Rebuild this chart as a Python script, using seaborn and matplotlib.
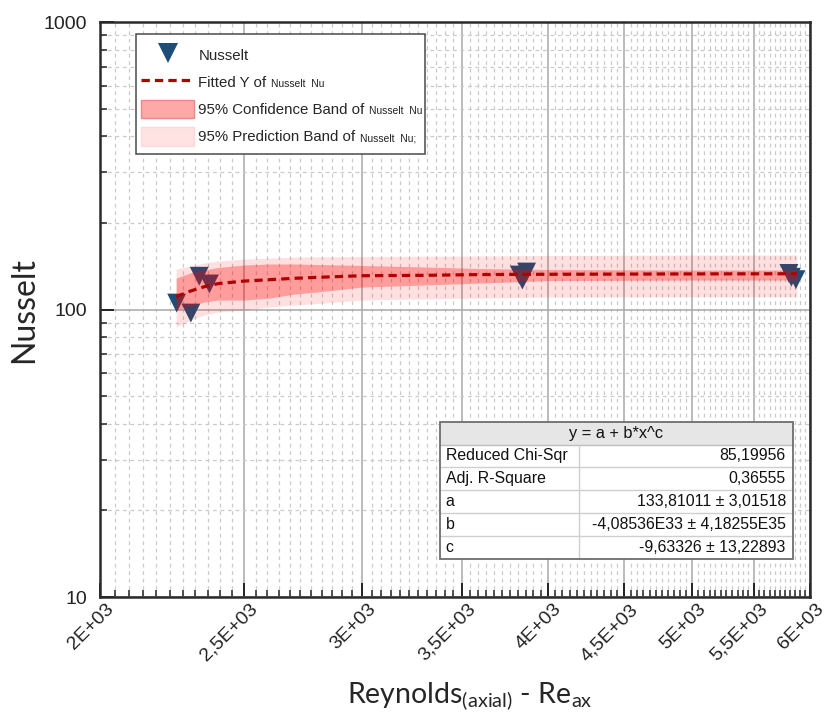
import numpy as np
import pandas as pd
import matplotlib
matplotlib.use("Agg")
import matplotlib.pyplot as plt
import matplotlib.ticker as mticker
import matplotlib.transforms as mtrans
from matplotlib.patches import Patch, Rectangle
from matplotlib.lines import Line2D
import seaborn as sns

# ---------------- data ----------------
re_points = [2252, 2302, 2332, 2369, 3827, 3845, 3870, 5808, 5830, 5871]
nu_points = [105.3, 97.2, 130.5, 122.7, 131.8, 126.6, 135.0, 133.5, 129.5, 127.0]

fit_re = [2250, 2300, 2350, 2400, 2450, 2500, 2600, 2700, 2800, 3000,
          3300, 3600, 4000, 4500, 5000, 5500, 5880]
fit_nu = [110.8, 115.9, 120.0, 123.0, 124.3, 125.6, 127.0, 128.4, 129.4, 131.1,
          131.5, 132.3, 132.6, 132.8, 133.0, 133.1, 133.2]

band_re = [2250, 2300, 2350, 2400, 2500, 2600, 2700, 2800, 3000, 3300,
           3600, 4000, 5000, 5880]
conf_hi = [128.7, 134.0, 137.2, 140.0, 142.8, 144.0, 144.0, 143.4, 142.3, 140.6,
           138.9, 137.8, 137.2, 137.2]
conf_lo = [99.6, 102.8, 106.2, 107.9, 107.9, 109.6, 113.2, 115.1, 119.7, 121.7,
           123.6, 126.1, 126.6, 126.6]
pred_hi = [138.3, 141.7, 145.1, 147.5, 149.8, 151.0, 152.2, 152.6, 152.9, 153.3,
           153.5, 154.1, 154.7, 154.7]
pred_lo = [86.9, 91.9, 95.7, 98.0, 99.6, 102.0, 103.7, 104.9, 107.9, 108.8,
           109.6, 110.5, 110.8, 110.8]

xtick_values = [2000, 2500, 3000, 3500, 4000, 4500, 5000, 5500, 6000]
xtick_labels = ["2E+03", "2,5E+03", "3E+03", "3,5E+03", "4E+03",
                "4,5E+03", "5E+03", "5,5E+03", "6E+03"]
ytick_values = [10, 100, 1000]
ytick_labels = ["10", "100", "1000"]

legend_labels = ["Nusselt", "Fitted Y of", "95% Confidence Band of",
                 "95% Prediction Band of"]
legend_suffix = [None, "Nusselt  Nu", "Nusselt  Nu", "Nusselt  Nu;"]

table_title = "y = a + b*x^c"
table_names = ["Reduced Chi-Sqr", "Adj. R-Square", "a", "b", "c"]
table_values = ["85,19956", "0,36555", "133,81011 \u00b1 3,01518",
                "-4,08536E33 \u00b1 4,18255E35", "-9,63326 \u00b1 13,22893"]

# ---------------- style ----------------
sns.set_style("ticks")
plt.rcParams['font.family'] = ['Liberation Sans', 'DejaVu Sans']

marker_color = "#1C4E77"
fit_color = "#B00000"

fig = plt.figure(figsize=(8.27, 7.15), dpi=100)
ax = fig.add_axes([0.1209, 0.1650, 0.8585, 0.8042])

ax.set_xscale("log")
ax.set_yscale("log")
ax.set_xlim(xtick_values[0], xtick_values[-1])
ax.set_ylim(ytick_values[0], ytick_values[-1])

# points (below the translucent bands, as in the reference)
pts = pd.DataFrame({"Re": re_points, "Nu": nu_points})
sns.scatterplot(data=pts, x="Re", y="Nu", marker="v", s=185, color=marker_color,
                edgecolor="none", linewidth=0, zorder=2, ax=ax, legend=False)

ax.fill_between(band_re, pred_lo, pred_hi, color="#FF0000", alpha=0.12,
                linewidth=0, zorder=3)
ax.fill_between(band_re, conf_lo, conf_hi, color="#FF0000", alpha=0.30,
                linewidth=0, zorder=3.1)

fit = pd.DataFrame({"Re": fit_re, "Nu": fit_nu})
sns.lineplot(data=fit, x="Re", y="Nu", color=fit_color, linewidth=2.3,
             linestyle=(0, (2.6, 1.6)), zorder=4, ax=ax, legend=False)

# ticks
ax.xaxis.set_major_locator(mticker.FixedLocator(xtick_values))
ax.xaxis.set_major_formatter(mticker.FixedFormatter(xtick_labels))
minors = []
for a, b in zip(xtick_values[:-1], xtick_values[1:]):
    minors.extend(np.linspace(a, b, 12)[1:-1])
ax.xaxis.set_minor_locator(mticker.FixedLocator(minors))
ax.xaxis.set_minor_formatter(mticker.NullFormatter())
ax.yaxis.set_major_locator(mticker.FixedLocator(ytick_values))
ax.yaxis.set_major_formatter(mticker.FixedFormatter(ytick_labels))
ax.yaxis.set_minor_locator(mticker.LogLocator(base=10, subs=range(2, 10)))
ax.yaxis.set_minor_formatter(mticker.NullFormatter())

ax.tick_params(which="major", direction="in", length=10, width=1.4,
               colors="#222222", pad=8)
ax.tick_params(which="minor", direction="in", length=5, width=1.1, colors="#222222")
ax.tick_params(axis="y", which="major", labelsize=14, pad=9)
ax.tick_params(axis="x", which="major", labelsize=14, pad=7)

for lab in ax.get_xticklabels():
    lab.set_rotation(45)
    lab.set_ha("right")
    lab.set_va("center")
    lab.set_rotation_mode("anchor")
    lab.set_transform(lab.get_transform() +
                      mtrans.ScaledTranslation(11 / 100, 0, fig.dpi_scale_trans))

for sp in ax.spines.values():
    sp.set_linewidth(1.8)
    sp.set_color("#2a2a2a")

ax.set_axisbelow(True)
ax.grid(which="major", color="#A8A8A8", linewidth=1.1, linestyle="-")
ax.grid(which="minor", color="#CACACA", linewidth=0.9, linestyle=(0, (3, 3)))

ax.set_xlabel(r"Reynolds$_{\mathregular{(axial)}}$ - Re$_{\mathregular{ax}}$",
              fontsize=20.5, family=["Lato", "DejaVu Sans"])
ax.xaxis.set_label_coords(0.521, -0.145)
ax.set_ylabel("Nusselt", fontsize=23, family=["Lato", "DejaVu Sans"])
ax.yaxis.set_label_coords(-0.086, 0.5)

# ---------------- legend ----------------
handles = [
    Line2D([], [], marker="v", linestyle="none", markersize=14, color=marker_color,
           markeredgewidth=0),
    Line2D([], [], color=fit_color, linewidth=2.3, linestyle=(0, (2.6, 1.6))),
    Patch(facecolor="#FFA8A8", edgecolor="#E88A8A", linewidth=1),
    Patch(facecolor="#FFE2E2", edgecolor="#FFD8D8", linewidth=1),
]
leg = ax.legend(handles, legend_labels, loc="upper left",
                bbox_to_anchor=(0.052, 0.967), frameon=False, fontsize=10.8,
                handlelength=3.5, handleheight=1.5, handletextpad=0.3,
                labelspacing=0.6, borderpad=0.3, borderaxespad=0)
leg.set_zorder(6)

fig.canvas.draw()
renderer = fig.canvas.get_renderer()
inv = ax.transAxes.inverted()
right_edges = []
for txt, suf in zip(leg.get_texts(), legend_suffix):
    bb = txt.get_window_extent(renderer)
    right_edges.append(bb.x1)
    if suf:
        px, py = inv.transform((bb.x1 + 4, bb.y0 + 1))
        st = ax.text(px, py, suf, transform=ax.transAxes, fontsize=7.4,
                     ha="left", va="bottom", color="#222222", zorder=7)
        fig.canvas.draw()
        right_edges.append(st.get_window_extent(renderer).x1)
lb = leg.get_window_extent(renderer)
x0, y0 = inv.transform((lb.x0 - 1, lb.y0 - 4))
x1, y1 = inv.transform((max(right_edges) + 3, lb.y1 + 7))
ax.add_patch(Rectangle((x0, y0), x1 - x0, y1 - y0, transform=ax.transAxes,
                       facecolor="white", edgecolor="#4a4a4a", linewidth=1.1,
                       zorder=5.5))

# ---------------- parameter table ----------------
def px2ax(xp, yp):
    return (xp - 100) / 710.0, (597 - yp) / 575.0

tl, tr = 440, 793
tt, tb = 422, 559
hdr_b = 444.5
col_split = 579
row_h = (tb - hdr_b) / len(table_names)

ax_l, ax_t = px2ax(tl, tt)
ax_r, ax_b = px2ax(tr, tb)
_, ax_hb = px2ax(tl, hdr_b)
ax_cs, _ = px2ax(col_split, tt)

ax.add_patch(Rectangle((ax_l, ax_b), ax_r - ax_l, ax_t - ax_b, transform=ax.transAxes,
                       facecolor="white", edgecolor="none", zorder=8))
ax.add_patch(Rectangle((ax_l, ax_hb), ax_r - ax_l, ax_t - ax_hb, transform=ax.transAxes,
                       facecolor="#E6E6E6", edgecolor="none", zorder=8.1))
for i in range(len(table_names)):
    ytop = hdr_b + i * row_h
    _, ya = px2ax(0, ytop)
    if i > 0:
        ax.plot([ax_l, ax_r], [ya, ya], transform=ax.transAxes, color="#CFCFCF",
                linewidth=1, zorder=8.2, solid_capstyle="butt")
    _, yc = px2ax(0, ytop + row_h / 2)
    ax.text(ax_l + 0.008, yc, table_names[i], transform=ax.transAxes,
            fontsize=11.4, ha="left", va="center", color="#111111", zorder=9)
    ax.text(ax_r - 0.010, yc, table_values[i], transform=ax.transAxes,
            fontsize=11.4, ha="right", va="center", color="#111111", zorder=9)
ax.plot([ax_l, ax_r], [ax_hb, ax_hb], transform=ax.transAxes, color="#BDBDBD",
        linewidth=1, zorder=8.2)
ax.plot([ax_cs, ax_cs], [ax_b, ax_hb], transform=ax.transAxes, color="#CFCFCF",
        linewidth=1, zorder=8.2)
_, yh = px2ax(0, (tt + hdr_b) / 2)
ax.text((ax_l + ax_r) / 2, yh, table_title, transform=ax.transAxes, fontsize=11.8,
        ha="center", va="center", color="#111111", zorder=9)
ax.add_patch(Rectangle((ax_l, ax_b), ax_r - ax_l, ax_t - ax_b, transform=ax.transAxes,
                       facecolor="none", edgecolor="#6E6E6E", linewidth=1.3, zorder=9.5))

fig.savefig("out.png", dpi=100)
